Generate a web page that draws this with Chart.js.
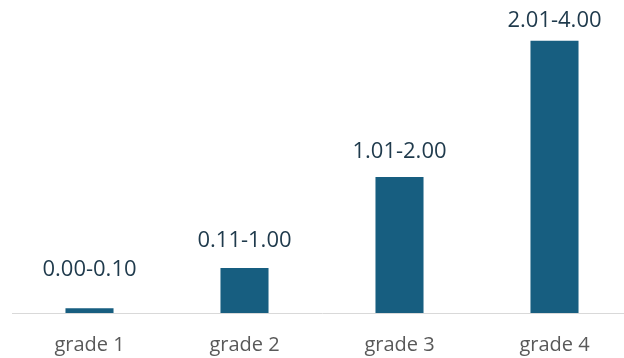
<!DOCTYPE html>
<html>
<head>
<meta charset="utf-8">
<script src="https://cdn.jsdelivr.net/npm/chart.js@4/dist/chart.umd.min.js"></script>
<style>
  html, body { margin: 0; padding: 0; background: #ffffff; overflow: hidden; }
  #wrap { width: 640px; height: 358px; }
</style>
</head>
<body>
<div id="wrap"><canvas id="chart" width="640" height="358"></canvas></div>
<script>
const grades = ['grade 1', 'grade 2', 'grade 3', 'grade 4'];
const heights = [0.07, 0.66, 2.0, 4.0];
const rangeLabels = ['0.00-0.10', '0.11-1.00', '1.01-2.00', '2.01-4.00'];

const barColor = '#175e80';

// draws the range text above every bar
const rangeLabelPlugin = {
  id: 'rangeLabels',
  afterDatasetsDraw(chart, args, opts) {
    const ctx = chart.ctx;
    const meta = chart.getDatasetMeta(0);
    ctx.save();
    ctx.font = '22px "Open Sans"';
    ctx.fillStyle = '#1f3a4c';
    ctx.textAlign = 'center';
    ctx.textBaseline = 'alphabetic';
    meta.data.forEach((bar, i) => {
      ctx.fillText(rangeLabels[i], bar.x, bar.y - opts.gaps[i]);
    });
    ctx.restore();
  }
};

new Chart(document.getElementById('chart'), {
  type: 'bar',
  data: {
    labels: grades,
    datasets: [{
      data: heights,
      backgroundColor: barColor,
      borderWidth: 0,
      barPercentage: 0.31,
      categoryPercentage: 1
    }]
  },
  options: {
    responsive: false,
    animation: false,
    layout: { padding: { left: 12, right: 8, top: 0, bottom: -19 } },
    plugins: {
      legend: { display: false },
      tooltip: { enabled: false },
      rangeLabels: { gaps: [32, 21, 19, 14] }
    },
    scales: {
      y: {
        display: false,
        min: 0,
        max: 4.6
      },
      x: {
        grid: { display: false, drawTicks: false },
        border: { display: true, color: '#d9d9d9', width: 1 },
        ticks: {
          color: '#595959',
          font: { family: 'Open Sans', size: 20 },
          padding: 20
        }
      }
    }
  },
  plugins: [rangeLabelPlugin]
});
</script>
</body>
</html>
